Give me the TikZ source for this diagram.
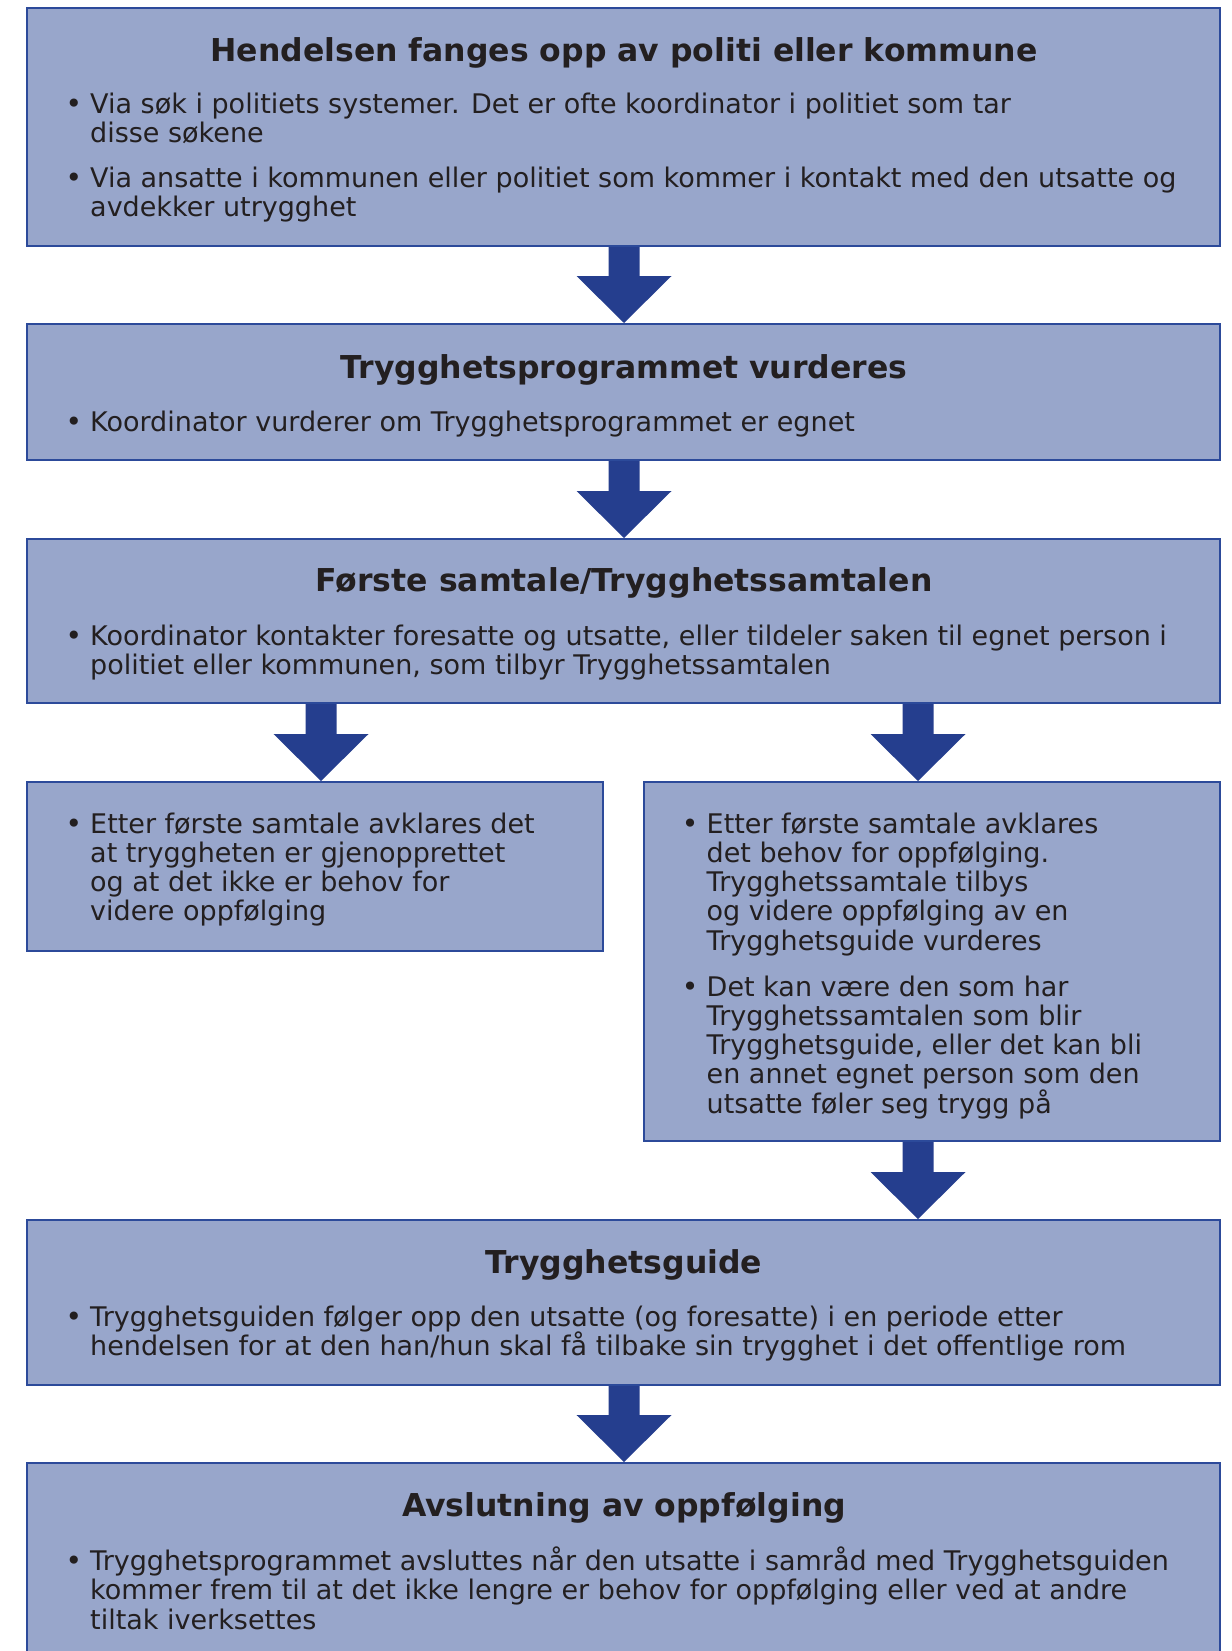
\documentclass[tikz,border=0pt]{standalone}
\usepackage{fontspec}
\setmainfont{DejaVu Sans}
\usetikzlibrary{backgrounds,calc}
\definecolor{boxfill}{RGB}{152,166,203}
\definecolor{boxline}{RGB}{44,74,154}
\definecolor{arrowc}{RGB}{37,62,142}
\definecolor{txtc}{RGB}{35,31,32}
\tikzset{
  box/.style={rectangle, draw=boxline, fill=boxfill, line width=2pt, inner sep=0pt},
  txt/.style={inner sep=0pt, text=txtc, font=\fontsize{27}{29.5}\selectfont},
  ttl/.style={inner sep=0pt, text=txtc, font=\bfseries\fontsize{31.5}{34}\selectfont, anchor=mid},
  bul/.style={inner sep=0pt, text=txtc, font=\fontsize{28}{29.5}\selectfont, anchor=mid},
}
\newcommand\txtlines[5]{% name, x, y, spacing, lines
  \foreach \t [count=\i from 0] in {#5} {
    \node[txt, anchor=mid west] (#1-\i) at (#2, {#3+\i*#4}) {\t};
  }
}
\newcommand\flowarrow[3]{% from, to, x
  \fill[arrowc] let \p1=(#1.south), \p2=(#2.north) in
    ({#3pt-15.5pt},\y1) -- ({#3pt+15.5pt},\y1) -- ({#3pt+15.5pt},{\y2+47pt})
    -- ({#3pt+47.5pt},{\y2+47pt}) -- ({#3pt},\y2) -- ({#3pt-47.5pt},{\y2+47pt})
    -- ({#3pt-15.5pt},{\y2+47pt}) -- cycle;
}
\begin{document}
\begin{tikzpicture}[x=1pt,y=-1pt]
\clip (0,0) rectangle (1231,1651);
\useasboundingbox (0,0) rectangle (1231,1651);
% boxes
\node[box, minimum width=1193pt, minimum height=238pt] (b1) at (623.5,127) {};
\node[box, minimum width=1193pt, minimum height=136pt] (b2) at (623.5,392) {};
\node[box, minimum width=1193pt, minimum height=164pt] (b3) at (623.5,621) {};
\node[box, minimum width=576pt, minimum height=169pt] (b4) at (315,866.5) {};
\node[box, minimum width=576pt, minimum height=359pt] (b5) at (932,961.5) {};
\node[box, minimum width=1193pt, minimum height=165pt] (b6) at (623.5,1302.5) {};
\node[box, minimum width=1193pt, minimum height=237pt] (b7) at (623.5,1581.5) {};
% arrows
\begin{scope}[on background layer]
\fill[white] (0,0) rectangle (1231,1651);
\flowarrow{b1}{b2}{624}
\flowarrow{b2}{b3}{624}
\flowarrow{b3}{b4}{321}
\flowarrow{b3}{b5}{918}
\flowarrow{b5}{b6}{918}
\flowarrow{b6}{b7}{624}
\end{scope}
% box 1
\node[ttl] (t1) at (624,59) {Hendelsen fanges opp av politi eller kommune};
\node[bul] (p1a) at (74,110.5) {\textbullet};
\txtlines{l1a}{90}{110.5}{29.4}{Via søk i politiets systemer. Det er ofte koordinator i politiet som tar, disse søkene}
\node[bul] (p1b) at (74,184.5) {\textbullet};
\txtlines{l1b}{90}{184.5}{29.4}{Via ansatte i kommunen eller politiet som kommer i kontakt med den utsatte og, avdekker utrygghet}
% box 2
\node[ttl] (t2) at (624,376) {Trygghetsprogrammet vurderes};
\node[bul] (p2) at (74,428.5) {\textbullet};
\txtlines{l2}{90}{428.5}{29.4}{Koordinator vurderer om Trygghetsprogrammet er egnet}
% box 3
\node[ttl] (t3) at (624,589) {Første samtale/Trygghetssamtalen};
\node[bul] (p3) at (74,642.5) {\textbullet};
\txtlines{l3}{90}{642.5}{29.4}{{Koordinator kontakter foresatte og utsatte, eller tildeler saken til egnet person i}, {politiet eller kommunen, som tilbyr Trygghetssamtalen}}
% box 4
\node[bul] (p4) at (74,830.5) {\textbullet};
\txtlines{l4}{90}{830.5}{29.2}{Etter første samtale avklares det, at tryggheten er gjenopprettet, og at det ikke er behov for, videre oppfølging}
% box 5
\node[bul] (p5a) at (690,830.5) {\textbullet};
\txtlines{l5a}{706.5}{830.5}{29.2}{Etter første samtale avklares, det behov for oppfølging., Trygghetssamtale tilbys, og videre oppfølging av en, Trygghetsguide vurderes}
\node[bul] (p5b) at (690,993.5) {\textbullet};
\txtlines{l5b}{706.5}{993.5}{29.2}{Det kan være den som har, Trygghetssamtalen som blir, {Trygghetsguide, eller det kan bli}, en annet egnet person som den, utsatte føler seg trygg på}
% box 6
\node[ttl] (t6) at (624,1271) {Trygghetsguide};
\node[bul] (p6) at (74,1323.5) {\textbullet};
\txtlines{l6}{90}{1323.5}{29.4}{Trygghetsguiden følger opp den utsatte (og foresatte) i en periode etter, hendelsen for at den han/hun skal få tilbake sin trygghet i det offentlige rom}
% box 7
\node[ttl] (t7) at (624,1514) {Avslutning av oppfølging};
\node[bul] (p7) at (74,1567.5) {\textbullet};
\txtlines{l7}{90}{1567.5}{29.4}{Trygghetsprogrammet avsluttes når den utsatte i samråd med Trygghetsguiden, kommer frem til at det ikke lengre er behov for oppfølging eller ved at andre, tiltak iverksettes}
\end{tikzpicture}
\end{document}
